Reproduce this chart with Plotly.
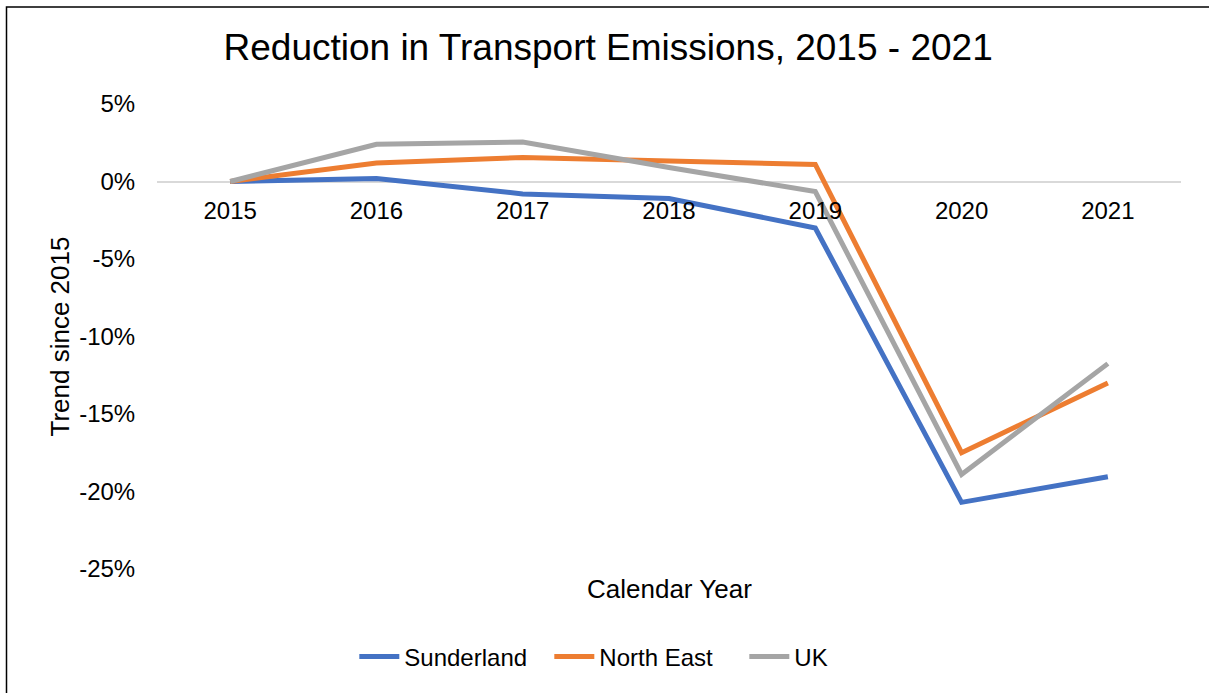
import plotly.graph_objects as go

years = ["2015", "2016", "2017", "2018", "2019", "2020", "2021"]
sunderland = [0.0, 0.2, -0.8, -1.1, -3.0, -20.7, -19.05]
north_east = [0.0, 1.2, 1.55, 1.3, 1.1, -17.5, -13.0]
uk = [0.0, 2.4, 2.55, 0.9, -0.65, -18.9, -11.75]

y_tickvals = [5, 0, -5, -10, -15, -20, -25]
y_ticktext = ["5%", "0%", "-5%", "-10%", "-15%", "-20%", "-25%"]

series = [
    ("Sunderland", sunderland, "#4472C4"),
    ("North East", north_east, "#ED7D31"),
    ("UK", uk, "#A5A5A5"),
]

FONT = "Liberation Sans, Arial, sans-serif"

fig = go.Figure()
for name, vals, color in series:
    fig.add_trace(go.Scatter(
        x=years, y=vals, name=name, mode="lines",
        line=dict(color=color, width=5),
    ))

L, R, T, B = 157, 28, 104, 124
W, H = 1209, 693
pw, ph = W - L - R, H - T - B

def px_x(px):
    return (px - L) / pw

def px_y(py):
    return (H - B - py) / ph

fig.update_layout(
    width=W, height=H,
    margin=dict(l=L, r=R, t=T, b=B),
    paper_bgcolor="white", plot_bgcolor="white",
    font=dict(family=FONT, color="#000000", size=24),
    title=dict(text="Reduction in Transport Emissions, 2015 - 2021",
               x=0.503, xref="container", xanchor="center",
               y=1 - 47 / H, yref="container", yanchor="middle",
               font=dict(size=37, family=FONT, color="#000000")),
    showlegend=True,
    legend=dict(orientation="h", xref="container", x=0.535, xanchor="center",
                yref="container", y=1 - 657 / H, yanchor="middle",
                font=dict(size=24, family=FONT), itemwidth=40,
                entrywidth=140, tracegroupgap=0),
    xaxis=dict(type="category", anchor="free", position=25 / 30,
               range=[-0.5, 6.5],
               showgrid=False, showline=False, zeroline=False,
               ticks="outside", ticklen=8, tickcolor="rgba(0,0,0,0)",
               tickfont=dict(size=24, family=FONT)),
    yaxis=dict(range=[-25, 5], tickvals=y_tickvals, ticktext=y_ticktext,
               showgrid=False, showline=False,
               zeroline=True, zerolinecolor="#D9D9D9", zerolinewidth=2,
               ticks="outside", ticklen=16, tickcolor="rgba(0,0,0,0)",
               tickfont=dict(size=24, family=FONT),
               title=dict(text="Trend since 2015", standoff=2,
                          font=dict(size=26, family=FONT))),
    annotations=[dict(text="Calendar Year", xref="paper", yref="paper",
                      x=0.5, y=px_y(589), xanchor="center", yanchor="middle",
                      showarrow=False, font=dict(size=26, family=FONT))],
    shapes=[dict(type="rect", xref="paper", yref="paper",
                 x0=px_x(6.5), x1=px_x(1220), y0=px_y(720), y1=px_y(7),
                 line=dict(color="#000000", width=1.5), fillcolor="rgba(0,0,0,0)",
                 layer="below")],
)

fig.write_html("out.html", config={"displayModeBar": False},
               post_script="document.body.style.margin='0';")
